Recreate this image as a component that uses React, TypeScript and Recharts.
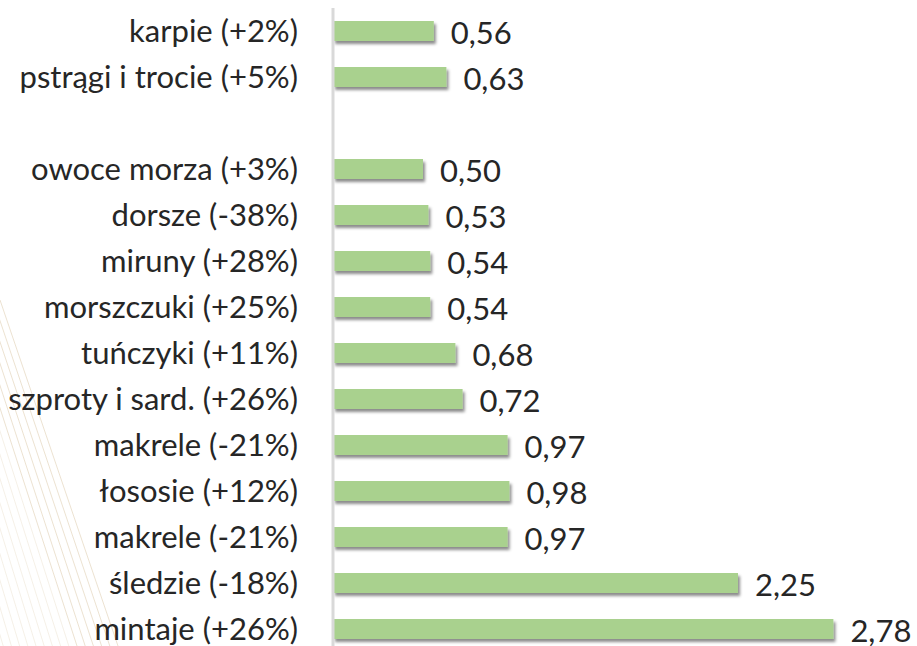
import { BarChart, Bar, XAxis, YAxis, LabelList } from 'recharts'

const categories = [
  'karpie (+2%)',
  'pstrągi i trocie (+5%)',
  '',
  'owoce morza (+3%)',
  'dorsze (-38%)',
  'miruny (+28%)',
  'morszczuki (+25%)',
  'tuńczyki (+11%)',
  'szproty i sard. (+26%)',
  'makrele (-21%)',
  'łososie (+12%)',
  'makrele (-21%)',
  'śledzie (-18%)',
  'mintaje (+26%)',
]

const values: (number | null)[] = [
  0.56, 0.63, null, 0.5, 0.53, 0.54, 0.54, 0.68, 0.72, 0.97, 0.98, 0.97, 2.25, 2.78,
]

const data = categories.map((name, i) => ({ name, value: values[i] }))

const FONT = 'Lato, "Open Sans", sans-serif'

function ValueLabel(props: any) {
  const { x, y, width, height, value } = props
  if (value == null) return null
  return (
    <text
      x={x + width + 17}
      y={y + height / 2 + 1}
      dominantBaseline="central"
      fill="#262626"
      fontSize={31}
      fontFamily={FONT}
    >
      {Number(value).toFixed(2).replace('.', ',')}
    </text>
  )
}

// faint diagonal line pattern in the lower-left background
function Decoration() {
  const lines = []
  for (let i = 0; i < 24; i++) {
    const x0 = -i * 7
    lines.push(
      <line
        key={i}
        x1={x0}
        y1={300}
        x2={x0 + 118 - i * 1.2}
        y2={646}
        stroke={i < 6 ? '#cfb88c' : '#e4d6bc'}
        strokeOpacity={i < 6 ? 0.45 : 0.4}
        strokeWidth={0.9}
      />
    )
  }
  return (
    <svg width={917} height={646} style={{ position: 'absolute', left: 0, top: 0 }}>
      <defs>
        <filter id="barShadow" x="-5%" y="-30%" width="110%" height="180%">
          <feDropShadow dx={2} dy={3} stdDeviation={1.5} floodColor="#000" floodOpacity={0.45} />
        </filter>
      </defs>
      {lines}
    </svg>
  )
}

export default function App() {
  return (
    <div
      style={{
        position: 'absolute',
        left: 0,
        top: 0,
        width: 917,
        height: 646,
        overflow: 'hidden',
        background: '#fff',
      }}
    >
      <Decoration />
      <div style={{ position: 'absolute', left: 0, top: 0 }}>
        <BarChart
          width={917}
          height={652}
          data={data}
          layout="vertical"
          margin={{ top: 8, right: 8, bottom: 0, left: 0 }}
          barSize={20}
        >
          <XAxis type="number" domain={[0, 3.2]} hide />
          <YAxis
            type="category"
            dataKey="name"
            width={333}
            tickSize={0}
            tickMargin={35}
            tickLine={false}
            axisLine={{ stroke: '#d9d9d9', strokeWidth: 3 }}
            interval={0}
            tick={{ fill: '#262626', fontSize: 31, fontFamily: FONT }}
          />
          <Bar
            dataKey="value"
            fill="#a9d18e"
            filter="url(#barShadow)"
            isAnimationActive={false}
          >
            <LabelList dataKey="value" content={<ValueLabel />} />
          </Bar>
        </BarChart>
      </div>
    </div>
  )
}
